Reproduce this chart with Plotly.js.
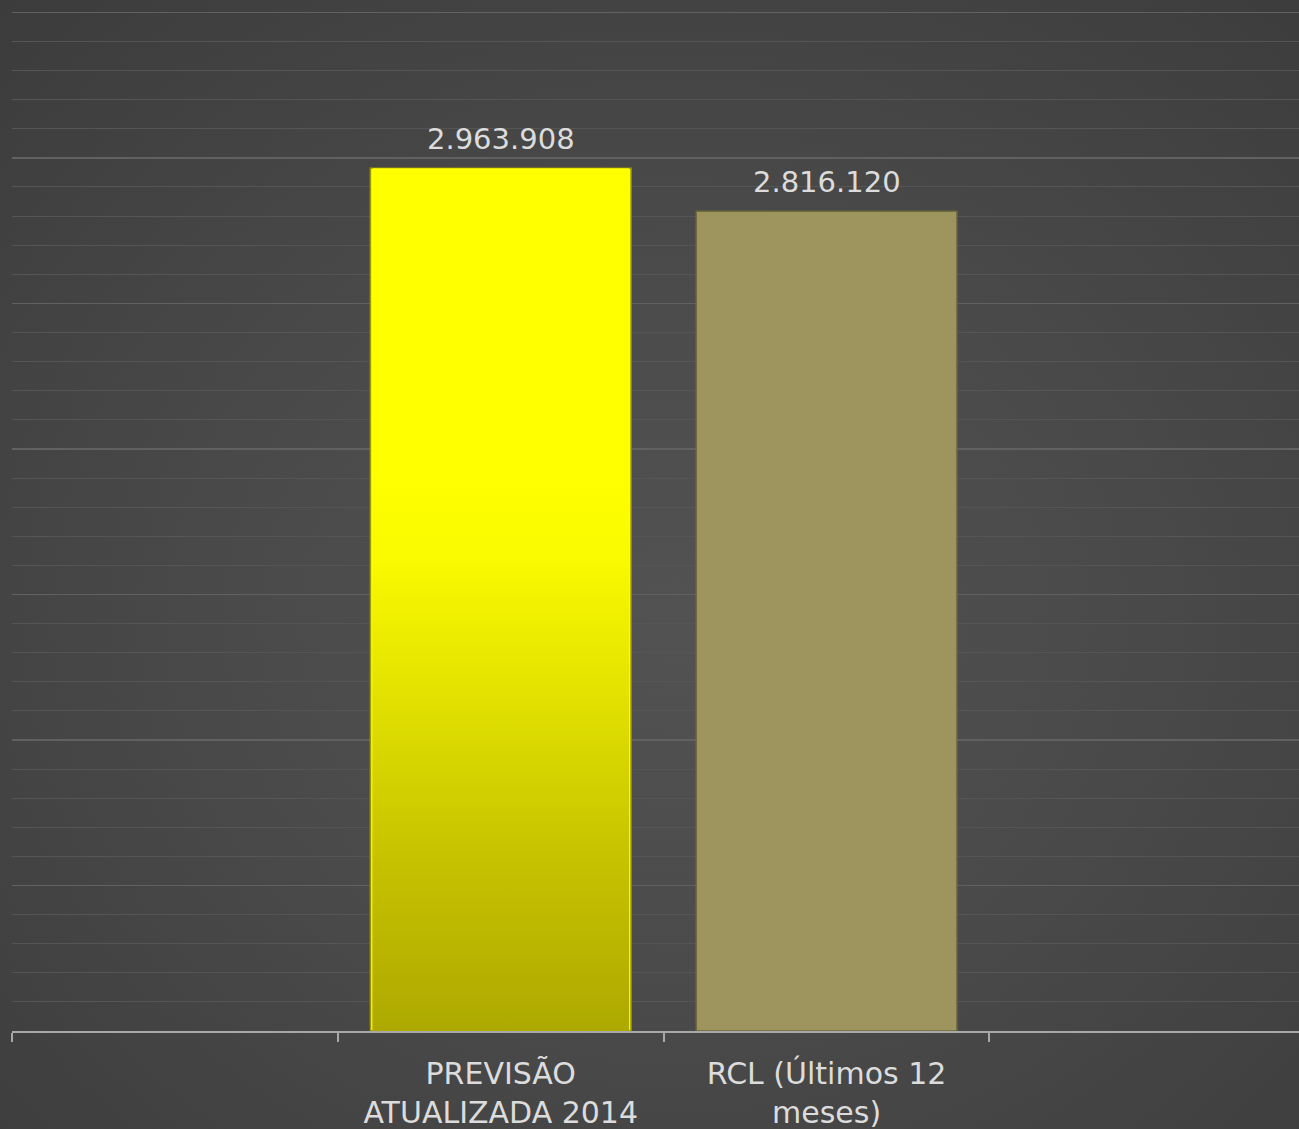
<!DOCTYPE html>
<html>
<head>
<meta charset="utf-8">
<script src="https://cdn.plot.ly/plotly-3.0.1.min.js"></script>
<style>
  html, body { margin: 0; padding: 0; overflow: hidden; }
  body {
    width: 1299px; height: 1129px;
    background: radial-gradient(ellipse 75% 75% at 52% 55%, #525252 0%, #4a4a4a 45%, #3c3c3c 100%);
  }
  #chart { width: 1299px; height: 1129px; }
</style>
</head>
<body>
<div id="chart"></div>
<script>
// ---- data ----
var categories = ["", "PREVISÃO<br>ATUALIZADA 2014", "RCL (Últimos 12<br>meses)", ""];
var positions = [0, 1, 2, 3];
var barPositions = [1, 2];
var barValues = [2963908, 2816120];
var barColors = ["#ffff00", "#9e955e"];
var barEdgeColors = ["#9c9600", "#6f6a3c"];

function fmtBR(v) {
  var s = Math.round(v).toString();
  return s.replace(/\B(?=(\d{3})+(?!\d))/g, ".");
}

var barWidth = 0.8;
var traces = [];

traces.push({
  type: "bar",
  x: barPositions,
  y: barValues,
  width: barWidth,
  marker: { color: barColors, line: { color: barEdgeColors, width: 1.5 } },
  hoverinfo: "skip",
  showlegend: false
});

// gradient overlay for the yellow bar, built from its data value
(function () {
  var xc = barPositions[0], v = barValues[0], h = barWidth / 2 - 0.006;
  traces.push({
    type: "scatter",
    mode: "lines",
    x: [xc - h, xc - h, xc + h, xc + h, xc - h],
    y: [0, v, v, 0, 0],
    fill: "toself",
    line: { width: 0, color: "rgba(0,0,0,0)" },
    fillgradient: {
      type: "vertical",
      colorscale: [[0, "#aea900"], [0.2, "#c6c200"], [0.4, "#e4e300"], [0.55, "#fafa00"], [0.65, "#ffff00"], [1, "#ffff00"]]
    },
    hoverinfo: "skip",
    showlegend: false
  });
})();

var annotations = barPositions.map(function (p, i) {
  return {
    x: p, y: barValues[i], xref: "x", yref: "y",
    text: fmtBR(barValues[i]),
    showarrow: false, yanchor: "bottom", yshift: 10,
    font: { family: "DejaVu Sans, sans-serif", size: 29, color: "#dcdcdc" }
  };
});

var layout = {
  width: 1299, height: 1129,
  margin: { l: 12, r: 0, t: 10, b: 98 },
  paper_bgcolor: "rgba(0,0,0,0)",
  plot_bgcolor: "rgba(0,0,0,0)",
  showlegend: false,
  font: { family: "DejaVu Sans, sans-serif", color: "#dcdcdc" },
  xaxis: {
    range: [-0.5, 3.45],
    tickmode: "array",
    tickvals: positions,
    ticktext: categories,
    ticks: "",
    showgrid: false,
    zeroline: false,
    showline: true,
    linecolor: "#a8a8a8",
    linewidth: 2,
    ticklabelstandoff: 15,
    tickfont: { family: "DejaVu Sans, sans-serif", size: 30, color: "#dcdcdc" },
    minor: {
      tickmode: "array",
      tickvals: [-0.5, 0.5, 1.5, 2.5, 3.5],
      ticks: "outside",
      ticklen: 9,
      tickwidth: 2,
      tickcolor: "#a8a8a8",
      showgrid: false
    },
    fixedrange: true
  },
  yaxis: {
    range: [0, 3508000],
    showticklabels: false,
    ticks: "",
    tick0: 0,
    dtick: 500000,
    showgrid: true,
    gridcolor: "#616161",
    gridwidth: 1.5,
    zeroline: false,
    showline: false,
    minor: { dtick: 100000, showgrid: true, gridcolor: "#555555", gridwidth: 1 },
    fixedrange: true
  },
  annotations: annotations,
  bargap: 0.2
};

Plotly.newPlot("chart", traces, layout, { displayModeBar: false, staticPlot: true });
</script>
</body>
</html>
